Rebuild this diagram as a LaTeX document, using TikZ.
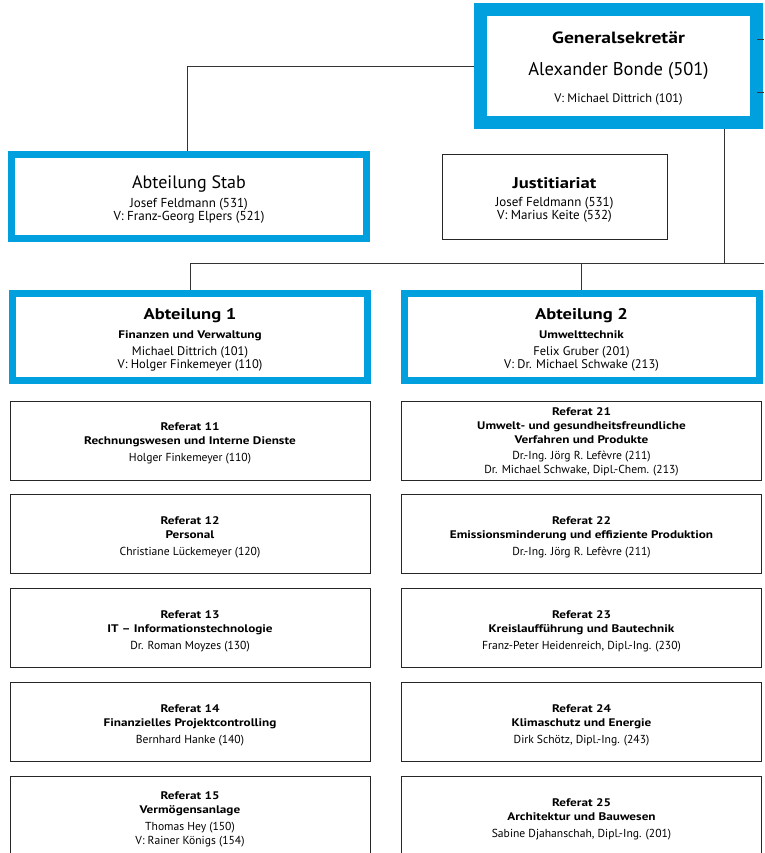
\documentclass[tikz,border=0pt]{standalone}
\usepackage{fontspec}
\setmainfont{PT Sans}[BoldFeatures={FakeStretch=1.2}]
\usetikzlibrary{positioning}
\definecolor{amtblau}{RGB}{0,160,223}
\newcommand\kopf[1]{\rule{0pt}{#1}}
\newcommand\titel[1]{{\bfseries\fontsize{11}{14}\selectfont #1}}

\begin{document}
\begin{tikzpicture}[x=1pt, y=-1pt, node distance=14pt,
                    every node/.style={align=center, inner sep=0pt, font=\fontsize{11.6}{14}\selectfont},
                    leitung/.style={draw=amtblau, line width=7pt, minimum width=355pt, minimum height=87pt},
                    amt/.style={draw=black!85, line width=0.9pt},
                    referat/.style={amt, minimum width=360pt, minimum height=79pt},
                    linie/.style={draw=black!80, line width=0.9pt}]
    \clip (0,0) rectangle (764,853);
    \node[leitung, line width=13pt, minimum width=276pt, minimum height=113pt] (gen) at (618.5,66)
        {{\bfseries\fontsize{16.3}{18}\selectfont\kopf{17pt}Generalsekretär}\\[18pt]
         {\fontsize{18.5}{20}\selectfont Alexander Bonde (501)}\\[13pt]
         {\fontsize{12.4}{12}\selectfont V: Michael Dittrich (101)}};
    \node[leitung, minimum height=84pt, font=\fontsize{13}{13}\selectfont] (stab) at (189,196.5)
        {{\fontsize{18}{19}\selectfont\kopf{18pt}Abteilung Stab}\\[5pt]
         Josef Feldmann (531)\\ V: Franz-Georg Elpers (521)};
    \node[amt, minimum width=225pt, minimum height=85pt, font=\fontsize{13}{13}\selectfont] (justiz) at (554.5,196.5)
        {{\bfseries\fontsize{15.5}{19}\selectfont\kopf{17pt}Justitiariat}\\[5pt]
         Josef Feldmann (531)\\ V: Marius Keite (532)};
    \node[leitung, font=\fontsize{12.5}{13}\selectfont] (abt1) at (190,336.5)
        {{\bfseries\fontsize{15.5}{19}\selectfont\kopf{18pt}Abteilung 1}\\[6pt]
         \titel{Finanzen und Verwaltung}\\[4pt]
         Michael Dittrich (101)\\ V: Holger Finkemeyer (110)};
    \node[leitung, font=\fontsize{12.5}{13}\selectfont] (abt2) at (581.5,336.5)
        {{\bfseries\fontsize{15.5}{19}\selectfont\kopf{18pt}Abteilung 2}\\[6pt]
         \titel{Umwelttechnik}\\[4pt]
         Felix Gruber (201)\\ V: Dr. Michael Schwake (213)};
    \node[referat, below=17pt of abt1] (ref11)
        {\kopf{14pt}\titel{Referat 11}\\ \titel{Rechnungswesen und Interne Dienste}\\[3pt]
         Holger Finkemeyer (110)};
    \node[referat, below=of ref11] (ref12)
        {\kopf{14pt}\titel{Referat 12}\\ \titel{Personal}\\[3pt]
         Christiane Lückemeyer (120)};
    \node[referat, below=of ref12] (ref13)
        {\kopf{14pt}\titel{Referat 13}\\ \titel{IT – Informationstechnologie}\\[3pt]
         Dr. Roman Moyzes (130)};
    \node[referat, below=of ref13] (ref14)
        {\kopf{14pt}\titel{Referat 14}\\ \titel{Finanzielles Projektcontrolling}\\[3pt]
         Bernhard Hanke (140)};
    \node[referat, below=of ref14] (ref15)
        {\kopf{14pt}\titel{Referat 15}\\ \titel{Vermögensanlage}\\[3pt]
         Thomas Hey (150)\\ V: Rainer Königs (154)};
    \node[referat, below=17pt of abt2] (ref21)
        {\kopf{10pt}\titel{Referat 21}\\ \titel{Umwelt- und gesundheitsfreundliche}\\ \titel{Verfahren und Produkte}\\[2pt]
         Dr.-Ing. Jörg R. Lefèvre (211)\\ Dr. Michael Schwake, Dipl.-Chem. (213)};
    \node[referat, below=of ref21] (ref22)
        {\kopf{14pt}\titel{Referat 22}\\ \titel{Emissionsminderung und effiziente Produktion}\\[3pt]
         Dr.-Ing. Jörg R. Lefèvre (211)};
    \node[referat, below=of ref22] (ref23)
        {\kopf{14pt}\titel{Referat 23}\\ \titel{Kreislaufführung und Bautechnik}\\[3pt]
         Franz-Peter Heidenreich, Dipl.-Ing. (230)};
    \node[referat, below=of ref23] (ref24)
        {\kopf{14pt}\titel{Referat 24}\\ \titel{Klimaschutz und Energie}\\[3pt]
         Dirk Schötz, Dipl.-Ing. (243)};
    \node[referat, below=of ref24] (ref25)
        {\kopf{14pt}\titel{Referat 25}\\ \titel{Architektur und Bauwesen}\\[3pt]
         Sabine Djahanschah, Dipl.-Ing. (201)};
    \coordinate (knoten) at (724,263);
    \coordinate (rechts) at (764,263);
    \coordinate (aus1) at (764,39);
    \coordinate (aus2) at (764,92);
    \draw[linie] (gen.west) -| ([xshift=-2pt]stab.north);
    \draw[linie] (gen.south -| knoten) -- (knoten);
    \draw[linie] (abt1.north) |- (rechts);
    \draw[linie] (abt2.north) -- (abt2.north |- rechts);
    \draw[linie] ([xshift=-6pt]gen.east |- aus1) -- (aus1);
    \draw[linie] ([xshift=-6pt]gen.east |- aus2) -- (aus2);
\end{tikzpicture}
\end{document}
